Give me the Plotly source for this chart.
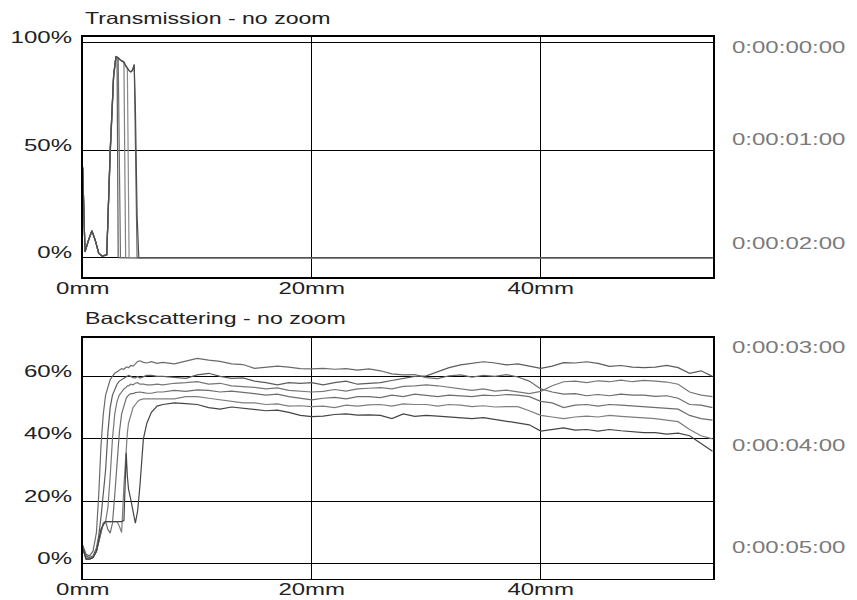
import plotly.graph_objects as go

# ---------------- data ----------------
time_labels = ["0:00:00:00", "0:00:01:00", "0:00:02:00", "0:00:03:00", "0:00:04:00", "0:00:05:00"]
x_ticks_mm = [0, 20, 40]
x_tick_text = ["0mm", "20mm", "40mm"]
trans_ticks = [0, 50, 100]
trans_tick_text = ["0%", "50%", "100%"]
bs_ticks = [0, 20, 40, 60]
bs_tick_text = ["0%", "20%", "40%", "60%"]

# Transmission (%), position in mm
x_trans = [0, 0.2, 0.5, 0.8, 1.1, 1.4, 1.7, 2.1, 2.4, 2.7, 2.9, 3.0, 3.1, 3.3, 3.5, 3.6, 3.75, 3.9, 4.05, 4.2, 4.35, 4.5, 4.6, 4.75, 4.9, 55]
trans_t0 = [42, 2.8, 8, 12.6, 8, 2, 0.8, 1.5, 50, 85, 93.5, 93.2, 0, 0, 0, 0, 0, 0, 0, 0, 0, 0, 0, 0, 0, 0]
trans_t1 = [42, 2.6, 7.8, 12.4, 8.2, 2.2, 0.6, 1.2, 47, 84, 93, 93.4, 93, 0, 0, 0, 0, 0, 0, 0, 0, 0, 0, 0, 0, 0]
trans_t2 = [42, 2.8, 8, 12.6, 8, 2, 0.8, 1.4, 49, 85, 93.4, 93.2, 93, 92, 91.5, 91.2, 0, 0, 0, 0, 0, 0, 0, 0, 0, 0]
trans_t3 = [42, 2.8, 8, 12.5, 8, 2, 0.7, 1.3, 48, 84, 93.3, 93.1, 92.8, 92, 91.5, 91, 89.5, 88, 0, 0, 0, 0, 0, 0, 0, 0]
trans_t4 = [42, 2.8, 8.1, 12.6, 8, 2, 0.8, 1.5, 50, 85, 93.5, 93.2, 93, 92, 91.5, 91, 89.5, 88, 87, 86.5, 87.5, 90, 45, 0, 0, 0]
trans_t5 = [42, 2.7, 8, 12.5, 8.1, 2.1, 0.7, 1.4, 49, 84.5, 93.4, 93.1, 92.9, 91.8, 91.2, 90.8, 89.2, 87.8, 87, 86.4, 87, 89.5, 70, 20, 0, 0]

# Backscattering (%), position in mm
x_bs = [0, 0.3, 0.6, 0.9, 1.2, 1.4, 1.6, 1.8, 2.0, 2.2, 2.4, 2.6, 2.8, 3.0, 3.2, 3.4, 3.6, 3.8, 3.9, 4.0,
        4.2, 4.4, 4.6, 4.8, 5.0, 5.3, 5.6, 6.0, 6.5,
        7, 8, 9, 10, 11, 12, 13, 14, 15, 16, 17, 18, 19, 20, 21, 22, 23, 24, 25, 26, 27, 28, 29, 30,
        31, 32, 33, 34, 35, 36, 37, 38, 39, 40, 41, 42, 43, 44, 45, 46, 47, 48, 49, 50, 51, 52, 53, 54, 55]
bs_t0 = [6, 3, 2.5, 4, 10, 22, 38, 48, 54, 57, 59, 60, 61, 61.5, 62, 62.5, 62.3, 63, 63, 62.8,
         63.5, 63.3, 64, 64.8, 65, 64.5, 64.3, 64.7, 64.2,
         64.5, 64, 65, 65.8, 65.2, 64.8, 64, 63.8, 62.6, 63, 63.3, 63, 62.5, 62.4, 62.6, 62.3, 62.5, 62, 62.4, 61.8,
         60.8, 60.5, 60.6, 59.6, 59.3, 60.2, 60.5, 59.8, 60.3, 60, 60.6, 59.8, 58.5, 56, 55, 54.3, 54.5, 53.8,
         54.2, 53.8, 54.3, 54, 54, 53.6, 53.8, 53, 51, 50.8, 50]
bs_t1 = [5.5, 2.5, 2, 2.5, 5, 9, 15, 22, 30, 42, 50, 54, 56, 57.5, 58.5, 59, 59.5, 60, 60, 60.3,
         60, 59.6, 59.5, 60, 59.5, 60, 60.3, 60.3, 60,
         60, 59.6, 59.4, 60.5, 61, 60, 59.4, 59.5, 58.5, 58, 57.3, 58, 57.8, 58, 57.3, 58, 58.5, 57.5, 57.8, 58,
         58.7, 59.3, 60, 60.2, 61.5, 62.8, 63.7, 64.2, 64.7, 64.3, 63.7, 64, 63.4, 62.6, 63.3, 64.4, 64.3, 64.7,
         64.2, 63.2, 63.5, 63, 62.8, 63, 63.5, 62.8, 61, 61.8, 60]
bs_t2 = [5, 2, 1.8, 2, 4, 7, 11, 13, 13.5, 18, 28, 40, 48, 52, 54, 55, 56, 56.5, 57, 57,
         57.5, 57.3, 57.8, 58, 57.5, 57.5, 57.3, 57.3, 57.5,
         57.3, 57.8, 58, 58.3, 57.5, 57.8, 57, 56.8, 56.5, 56, 56.3, 55.5, 55.2, 55, 55.2, 55.8, 55.3, 56, 56.2, 56.4,
         56, 56.8, 57, 57.3, 57, 56.5, 56, 55.5, 56, 55.3, 55.6, 55.1, 54.5, 55.2, 57, 58.3, 58.5, 58,
         58.6, 58.3, 58.8, 58.3, 58.7, 58.5, 58.2, 57.5, 55, 54, 53.5]
bs_t3 = [5, 1.5, 1.5, 2, 4, 7, 11, 13, 13.5, 11, 9.8, 13, 22, 32, 42, 48, 51, 53, 53.5, 54,
         54.5, 54.5, 54.8, 55, 55, 54.8, 54.6, 54.6, 55,
         55, 55.5, 55.2, 55.7, 55.5, 55, 55.3, 55, 54.5, 54, 54.3, 53.5, 53, 52.5, 53, 53.3, 52.8, 53.5, 53.5, 53.2,
         54, 53.5, 54.3, 54, 53.5, 54, 53.8, 53.5, 54, 53.8, 54.2, 54, 53.5, 52, 51.5, 50, 50.8, 51,
         50.5, 51, 50.8, 50.5, 50.3, 50, 49.8, 49.5, 47.5, 46.5, 46]
bs_t4 = [5, 1.5, 1.5, 2, 4, 7, 11, 12.5, 13.5, 13.5, 13.5, 13.5, 13.5, 13.5, 12, 10, 25, 38, 42, 45,
         48, 50, 51, 52, 52.5, 52.8, 52.8, 52.8, 53,
         53, 52.8, 53.5, 53.5, 53, 52.5, 52, 51.5, 51.5, 51, 51.2, 50.5, 50.6, 50.3, 50.5, 50, 50.8, 50.5, 50.9, 51,
         50.5, 51.2, 51, 51, 50.5, 51, 50.8, 50.3, 50.6, 50.2, 50.3, 50.3, 49, 47.5, 47, 46.5, 47, 47.3,
         47, 47.5, 47.2, 47, 46.8, 46.5, 46, 45.5, 43, 41, 40]
bs_t5 = [5, 1.5, 1.5, 2, 4, 7, 11, 12.5, 13.5, 13.5, 13.5, 13.5, 13.5, 13.5, 13.5, 13.5, 13.8, 35.5, 28, 24,
         20.5, 17, 13, 17, 25, 40, 45, 48.5, 50.5,
         51, 51.5, 51.3, 51, 50, 49.5, 50.2, 49.8, 49.5, 49, 49.2, 48.5, 47.5, 47.1, 47.3, 47.8, 48, 47.6, 47.7, 47.5,
         46.5, 48, 47.2, 47.5, 47.3, 47, 46.8, 46.5, 46.8, 46.2, 45.5, 45, 44.5, 42.5, 43, 43.5, 42.8, 43,
         42.5, 43, 42.6, 42.3, 42, 42, 41.5, 41.8, 41, 38.5, 36]

trans_series = [trans_t0, trans_t1, trans_t2, trans_t3, trans_t4, trans_t5]
bs_series = [bs_t0, bs_t1, bs_t2, bs_t3, bs_t4, bs_t5]
trans_colors = ["#5a5a5a", "#6e6e6e", "#808080", "#8a8a8a", "#666666", "#4d4d4d"]
bs_colors = ["#6a6a6a", "#5c5c5c", "#777777", "#6e6e6e", "#7e7e7e", "#444444"]

# ---------------- figure ----------------
fig = go.Figure()
for name, ys, col in zip(time_labels, trans_series, trans_colors):
    fig.add_trace(go.Scatter(x=x_trans, y=ys, mode="lines", name=name,
                             line=dict(color=col, width=1.2), xaxis="x", yaxis="y",
                             showlegend=False, hoverinfo="skip"))
for name, ys, col in zip(time_labels, bs_series, bs_colors):
    fig.add_trace(go.Scatter(x=x_bs, y=ys, mode="lines", name=name,
                             line=dict(color=col, width=1.2), xaxis="x2", yaxis="y2",
                             showlegend=False, hoverinfo="skip"))

FONT = "Liberation Sans, Arial, Helvetica, sans-serif"
W, H = 857, 600
x_dom = [82.7 / W, 713.3 / W]

axis_common = dict(showgrid=True, gridcolor="#000000", gridwidth=1, zeroline=False,
                   showline=True, mirror=True, linecolor="#000000", linewidth=1.5,
                   ticks="", automargin=False, fixedrange=True,
                   tickfont=dict(family=FONT, size=16, color="#222222"))

fig.update_layout(
    width=W, height=H,
    margin=dict(l=0, r=0, t=0, b=0),
    paper_bgcolor="white", plot_bgcolor="white",
    font=dict(family=FONT, size=16, color="#222222"),
    xaxis=dict(domain=x_dom, range=[0, 55.07], tickmode="array", tickvals=x_ticks_mm,
               ticktext=x_tick_text, anchor="y", ticklabelstandoff=-4, **axis_common),
    yaxis=dict(domain=[1 - 277.3 / H, 1 - 36.7 / H], range=[-9.1, 102.8], tickmode="array",
               tickvals=trans_ticks, ticktext=trans_tick_text, anchor="x",
               ticklabelshift=-5, ticklabelstandoff=6, **axis_common),
    xaxis2=dict(domain=x_dom, range=[0, 55.07], tickmode="array", tickvals=x_ticks_mm,
                ticktext=x_tick_text, anchor="y2", ticklabelstandoff=-4, **axis_common),
    yaxis2=dict(domain=[1 - 578.7 / H, 1 - 337.7 / H], range=[-4.8, 72.4], tickmode="array",
                tickvals=bs_ticks, ticktext=bs_tick_text, anchor="x2",
                ticklabelshift=-5, ticklabelstandoff=6, **axis_common),
)

annotations = [
    dict(text="Transmission - no zoom", x=83 / W, y=1 - 17.8 / H),
    dict(text="Backscattering - no zoom", x=83 / W, y=1 - 318.3 / H),
]
time_y = [47.5, 139, 243, 347.5, 445, 547]
for lab, yy in zip(time_labels, time_y):
    annotations.append(dict(text=lab, x=730 / W, y=1 - yy / H, font=dict(family=FONT, size=16, color="#7a7a7a")))
for a in annotations:
    a.update(xref="paper", yref="paper", xanchor="left", yanchor="middle", align="left", showarrow=False)
    a.setdefault("font", dict(family=FONT, size=16.5, color="#222222"))
fig.update_layout(annotations=annotations)

post = """
document.body.style.margin = '0';
document.body.style.overflow = 'hidden';
var gd = document.getElementById('{plot_id}');
function st(el, f){ try { var L = el.getComputedTextLength(); if (L > 0) { el.setAttribute('textLength', (L*f).toFixed(2)); el.setAttribute('lengthAdjust', 'spacingAndGlyphs'); } } catch(e) {} }
gd.querySelectorAll('.xtick text, .ytick text, .x2tick text, .y2tick text').forEach(function(t){ st(t, 1.5); });
gd.querySelectorAll('.annotation-text').forEach(function(t, i){ st(t, i < 2 ? 1.4 : 1.5); });
"""

fig.write_html("out.html", post_script=post, config={"displayModeBar": False, "staticPlot": True})
